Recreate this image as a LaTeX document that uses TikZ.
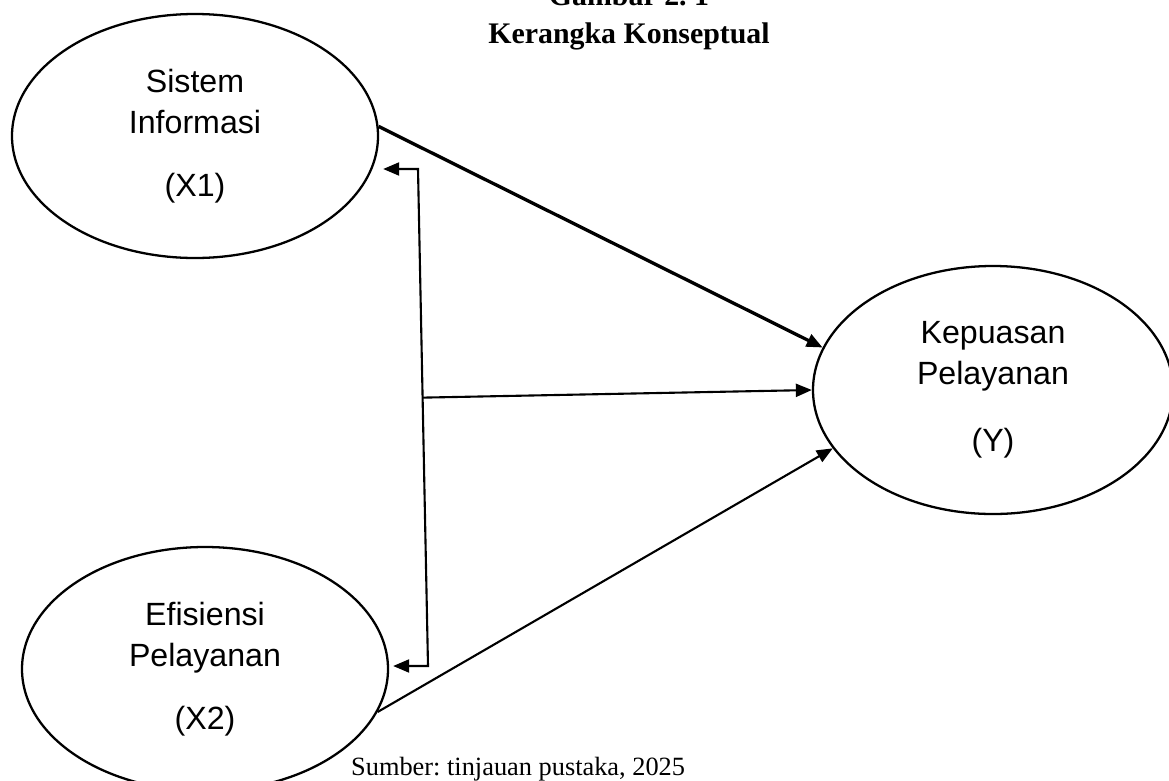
\documentclass[tikz,border=0pt]{standalone}
\usepackage{fontspec}
\setmainfont{Liberation Serif}
\newfontfamily\arialfont{Liberation Sans}
\usetikzlibrary{arrows.meta,calc,shapes.geometric}
\frenchspacing
\tikzset{
	konsep/.style={draw, line width=1.3pt, ellipse, inner sep=0pt, minimum width=7.32cm, minimum height=4.88cm, align=center, font=\arialfont\fontsize{18.3}{23.3}\selectfont},
	panah/.style={line width=1.2pt, -{Triangle[length=3.2mm, width=2.6mm]}},
	judulfont/.style={font=\bfseries\fontsize{17}{21.6}\selectfont, anchor=base},
}

\begin{document}
\begin{tikzpicture}[x=0.2mm, y=-0.2mm]
		%%%%% START %%%%%
		\useasboundingbox (0, 0) rectangle (1169, 780);
		
		\node[judulfont] (gambar) at (629, 5) {Gambar 2. 1};
		\node[judulfont] (judul) at (629, 43) {Kerangka Konseptual};
		
		\node[konsep] (x1) at (195, 136) {Sistem\\Informasi\\[0.44cm](X1)};
		\node[konsep] (x2) at (205, 669) {Efisiensi\\Pelayanan\\[0.44cm](X2)};
		\node[konsep, minimum width=7.2cm, minimum height=4.96cm] (y) at (993, 390) {Kepuasan\\Pelayanan\\[0.52cm](Y)};
		
		\coordinate (brk1) at (418, 169);
		\coordinate (brk2) at (428, 666);
		
		\draw[panah, line width=1.9pt] (x1.3.5) -- (y.166.4);
		\draw[line width=1.2pt, {Triangle[length=3.2mm, width=2.6mm]}-{Triangle[length=3.2mm, width=2.6mm]}, shorten <=0.08cm, shorten >=0.08cm] (x1.east |- brk1) -- (brk1) -- (brk2) -- (x2.east |- brk2);
		\draw[panah] ($(brk1)!0.46!(brk2)$) -- (y.180);
		\draw[panah] (x2.-14.2) -- (y.200.2);
		
		\node[font=\fontsize{15}{18}\selectfont, anchor=base west] (sumber) at (345, 775) {Sumber: tinjauan pustaka, 2025};
		
		%%%%% END %%%%%
	\end{tikzpicture}
\end{document}
